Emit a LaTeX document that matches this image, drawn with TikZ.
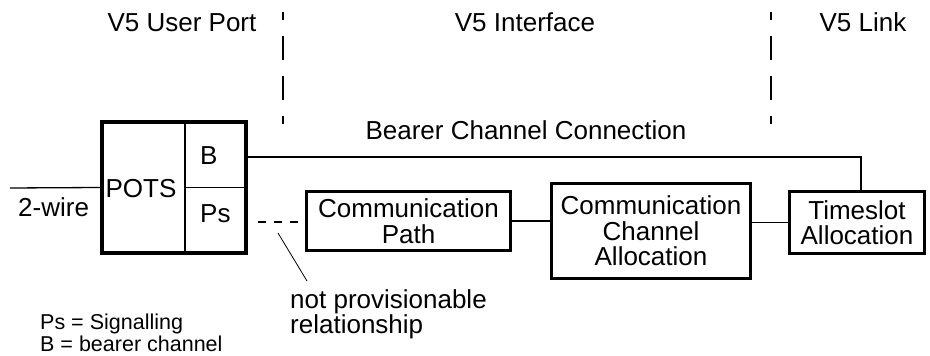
\documentclass[tikz,border=0pt]{standalone}
\usepackage{fontspec}
\setmainfont{Liberation Sans}
\begin{document}
\begin{tikzpicture}[x=1pt,y=1pt,
  lbl/.style={font=\fontsize{26}{25.5}\selectfont, inner sep=0pt},
  boxtxt/.style={font=\fontsize{26}{25.5}\selectfont, align=center},
  small/.style={font=\fontsize{21.5}{22}\selectfont, inner sep=0pt, align=left},
  thinline/.style={line width=1.3pt},
  box/.style={draw, line width=3pt, inner sep=0pt},
  sepline/.style={line width=1.4pt, dash pattern=on 24pt off 16pt, dash phase=16pt},
  nodash/.style={line width=1.3pt, dash pattern=on 8pt off 8pt},
]
\useasboundingbox (0,0) rectangle (930,356);

% headers
\node[lbl, anchor=base] (up) at (182,324) {V5 User Port};
\node[lbl, anchor=base] (vi) at (525,324) {V5 Interface};
\node[lbl, anchor=base] (vl) at (863,324) {V5 Link};

% separators
\coordinate (s1t) at (283,344); \coordinate (s1b) at (283,232);
\coordinate (s2t) at (771,344); \coordinate (s2b) at (771,232);
\draw[sepline] (s1t) -- (s1b);
\draw[sepline] (s2t) -- (s2b);

% POTS box
\node[box, line width=4.5pt, minimum width=144pt, minimum height=131pt] (pots) at (174,168.5) {};
\coordinate (dv) at (185,0);
\draw[thinline] (dv |- pots.north) -- (dv |- pots.south);
\draw[thinline] (dv |- pots.east) -- (pots.east);
\node[lbl, anchor=base] (potsT) at (141,158) {POTS};
\node[lbl, anchor=base west] (bT) at (200,191) {B};
\node[lbl, anchor=base west] (psT) at (200,133) {Ps};

% 2-wire
\coordinate (w) at (10,168);
\draw[thinline] (w) -- (pots.west);
\node[lbl, anchor=base west] (wT) at (18,139) {2-wire};

% boxes
\node[box, boxtxt, minimum width=204pt, minimum height=59pt] (cp) at (408.5,135) {Communication\\Path};
\node[box, boxtxt, minimum width=199pt, minimum height=95pt] (cca) at (651,125) {Communication\\Channel\\Allocation};
\node[box, boxtxt, minimum width=135pt, minimum height=62pt] (ts) at (857,133.5) {Timeslot\\Allocation};

\draw[thinline] (cp.east) -- (cp.east -| cca.west);
\draw[thinline] (ts.west -| cca.east) -- (ts.west);

% bearer channel connection
\coordinate (bl) at (0,199);
\draw[thinline] (pots.east |- bl) -| ([xshift=4pt]ts.north);
\node[lbl, anchor=base] (bcc) at (526,216) {Bearer Channel Connection};

% not provisionable
\coordinate (d1) at (258,134); \coordinate (d2) at (298,134);
\draw[nodash] (d1) -- (d2);
\coordinate (l1) at (278,123); \coordinate (l2) at (307,75);
\draw[line width=0.8pt] (l1) -- (l2);
\node[lbl, anchor=base west, align=left] (np) at (290,22) {not provisionable\\relationship};

% legend
\node[small, anchor=base west] (lg) at (40,4) {Ps = Signalling\\B = bearer channel};
\end{tikzpicture}
\end{document}
